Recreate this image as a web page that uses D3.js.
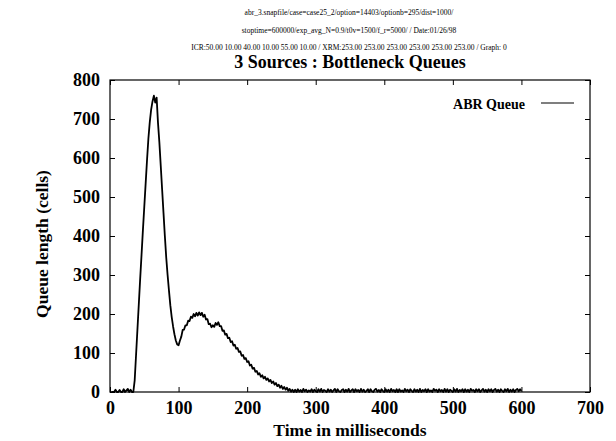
<!DOCTYPE html>
<html>
<head>
<meta charset="utf-8">
<script src="https://cdn.jsdelivr.net/npm/d3@7"></script>
<style>
  html, body { margin: 0; padding: 0; background: #fff; }
  svg { display: block; }
  text { font-family: "Liberation Serif", "Times New Roman", Times, serif; fill: #000; }
</style>
</head>
<body>
<script>
// ---------- data ----------
const headerLines = [
  "abr_3.snapfile/case=case25_2/option=14403/optionb=295/dist=1000/",
  "stoptime=600000/exp_avg_N=0.9/t0v=1500/f_r=5000/ / Date:01/26/98",
  "ICR:50.00 10.00 40.00 10.00 55.00 10.00 / XRM:253.00 253.00 253.00 253.00 253.00 253.00 / Graph: 0"
];
const chartTitle = "3 Sources : Bottleneck Queues";
const xLabel = "Time in milliseconds";
const yLabel = "Queue length (cells)";
const seriesName = "ABR Queue";
const xTicks = [0, 100, 200, 300, 400, 500, 600, 700];
const yTicks = [0, 100, 200, 300, 400, 500, 600, 700, 800];

// sample times (ms), every 2 ms from 2 to 600
const sampleStart = 2;
const sampleStep = 2;
// queue length (cells) at each sample
const queueValues = [
  // 2 .. 34
  0, 0, 0, 6, 0, 0, 5, 0, 0, 7, 0, 4, 8, 0, 6, 0, 0,
  // 36 .. 68
  30, 95, 160, 225, 290, 352, 415, 475, 535, 595, 650, 692, 724, 745, 760, 742, 755,
  // 70 .. 102
  690, 640, 580, 520, 460, 400, 345, 300, 260, 222, 192, 168, 148, 132, 122, 120, 132,
  // 104 .. 136
  142, 159, 160, 171, 171, 183, 182, 193, 190, 200, 194, 203, 196, 204, 197, 203, 193,
  // 138 .. 170
  198, 186, 187, 174, 175, 166, 171, 167, 177, 172, 179, 169, 169, 157, 158, 147, 149,
  // 172 .. 204
  138, 139, 128, 130, 119, 121, 111, 113, 103, 104, 93, 95, 85, 87, 77, 79, 68,
  // 206 .. 238
  70, 60, 62, 52, 54, 45, 48, 39, 43, 35, 39, 31, 35, 27, 31, 23, 27,
  // 240 .. 272
  19, 23, 15, 19, 11, 16, 8, 13, 6, 11, 3, 8, 1, 6, 0, 6, 0,
  // 274 .. 306
  7, 1, 5, 0, 8, 2, 6, 0, 4, 1, 7, 0, 6, 2, 0, 7, 1,
  // 308 .. 340
  8, 0, 5, 3, 0, 7, 1, 6, 0, 4, 8, 0, 7, 2, 0, 5, 7,
  // 342 .. 374
  0, 6, 1, 8, 0, 4, 7, 0, 7, 2, 5, 0, 8, 1, 6, 0, 3,
  // 376 .. 408
  7, 0, 7, 2, 0, 6, 8, 1, 5, 0, 7, 3, 0, 7, 1, 6, 0,
  // 410 .. 442
  8, 2, 5, 0, 7, 0, 7, 1, 4, 0, 8, 2, 6, 0, 7, 3, 0,
  // 444 .. 476
  7, 1, 6, 0, 8, 0, 5, 2, 7, 0, 7, 1, 4, 0, 8, 3, 6,
  // 478 .. 510
  0, 7, 2, 5, 0, 8, 1, 7, 0, 6, 3, 0, 7, 1, 8, 0, 5,
  // 512 .. 544
  2, 7, 0, 7, 1, 6, 0, 8, 3, 5, 0, 7, 2, 7, 0, 4, 8,
  // 546 .. 578
  1, 6, 0, 7, 2, 7, 0, 5, 8, 1, 6, 0, 7, 3, 0, 7, 2,
  // 580 .. 600
  8, 0, 6, 1, 7, 0, 5, 8, 2, 7, 3
];

// ---------- layout ----------
const W = 616, H = 441;
const plot = { left: 110, right: 590, top: 80, bottom: 392 };

const svg = d3.select("body").append("svg")
  .attr("width", W).attr("height", H);

const x = d3.scaleLinear().domain([0, 700]).range([plot.left, plot.right]);
const y = d3.scaleLinear().domain([0, 800]).range([plot.bottom, plot.top]);

// header text
const headerY = [15, 33, 50];
headerLines.forEach((t, i) => {
  svg.append("text")
    .attr("x", 349)
    .attr("y", headerY[i])
    .attr("text-anchor", "middle")
    .style("font-size", "7.5px")
    .text(t);
});

svg.append("text")
  .attr("x", 350)
  .attr("y", 68)
  .attr("text-anchor", "middle")
  .style("font-size", "18px")
  .style("font-weight", "bold")
  .text(chartTitle);

// frame
svg.append("rect")
  .attr("x", plot.left).attr("y", plot.top)
  .attr("width", plot.right - plot.left)
  .attr("height", plot.bottom - plot.top)
  .attr("fill", "none").attr("stroke", "#000").attr("stroke-width", 1.2);

const tickLen = 5;
const tickFont = "18px";

// axes (inward ticks)
const xAxisB = d3.axisBottom(x).tickValues(xTicks).tickSize(-tickLen).tickPadding(tickLen + 4).tickFormat(d3.format("d"));
const gxB = svg.append("g").attr("transform", `translate(0,${plot.bottom})`).call(xAxisB);
const xAxisT = d3.axisTop(x).tickValues(xTicks).tickSize(-tickLen).tickFormat("");
const gxT = svg.append("g").attr("transform", `translate(0,${plot.top})`).call(xAxisT);
const yAxisL = d3.axisLeft(y).tickValues(yTicks).tickSize(-tickLen).tickPadding(tickLen + 5).tickFormat(d3.format("d"));
const gyL = svg.append("g").attr("transform", `translate(${plot.left},0)`).call(yAxisL);
const yAxisR = d3.axisRight(y).tickValues(yTicks).tickSize(-tickLen).tickFormat("");
const gyR = svg.append("g").attr("transform", `translate(${plot.right},0)`).call(yAxisR);

[gxB, gxT, gyL, gyR].forEach(g => {
  g.attr("font-family", null);
  g.select(".domain").remove();
  g.selectAll(".tick line").attr("stroke", "#000").attr("stroke-width", 1);
  g.selectAll(".tick text")
    .style("font-family", '"Liberation Serif", "Times New Roman", Times, serif')
    .style("font-size", tickFont)
    .style("font-weight", "bold")
    .attr("fill", "#000");
});

// axis titles
svg.append("text")
  .attr("x", 350)
  .attr("y", 436)
  .attr("text-anchor", "middle")
  .style("font-size", "17.5px")
  .style("font-weight", "bold")
  .text(xLabel);

svg.append("text")
  .attr("transform", `translate(48,244) rotate(-90)`)
  .attr("text-anchor", "middle")
  .style("font-size", "17.5px")
  .style("font-weight", "bold")
  .text(yLabel);

// series
const data = queueValues.map((v, i) => ({ t: sampleStart + i * sampleStep, v }));
const line = d3.line().x(d => x(d.t)).y(d => y(d.v));
svg.append("path")
  .datum(data)
  .attr("d", line)
  .attr("fill", "none")
  .attr("stroke", "#000")
  .attr("stroke-width", 1.8)
  .attr("stroke-linejoin", "round");

// legend
svg.append("text")
  .attr("x", 525)
  .attr("y", 109)
  .attr("text-anchor", "end")
  .style("font-size", "14px")
  .style("font-weight", "bold")
  .text(seriesName);
svg.append("line")
  .attr("x1", 541).attr("x2", 574)
  .attr("y1", 103).attr("y2", 103)
  .attr("stroke", "#000").attr("stroke-width", 1.2);
</script>
</body>
</html>
